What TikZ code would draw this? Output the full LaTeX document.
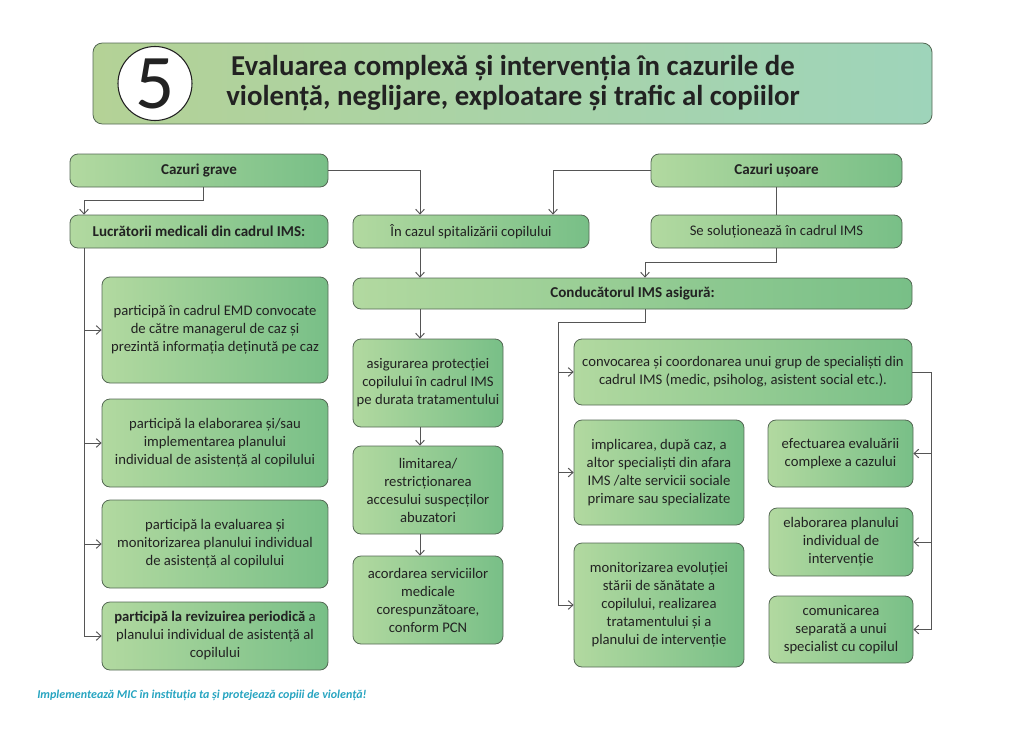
\documentclass[tikz,border=0pt]{standalone}
\usepackage{fontspec}
\setmainfont{Carlito}
\usepackage{tikz}
\usetikzlibrary{arrows.meta, calc}
\definecolor{boxlight}{RGB}{178,217,160}
\definecolor{boxdark}{RGB}{120,191,135}
\definecolor{boxedge}{RGB}{84,104,84}
\definecolor{titleleft}{RGB}{180,210,150}
\definecolor{titleright}{RGB}{158,212,186}
\definecolor{footteal}{RGB}{38,164,192}
\definecolor{linegray}{RGB}{85,85,85}
\definecolor{textgray}{RGB}{34,34,34}

\tikzset{
  card/.style={draw=boxedge, line width=0.6pt, rounded corners=6pt, left color=boxlight, right color=boxdark,
    text=textgray, align=center, inner sep=2pt, font=\fontsize{11}{13.5}\selectfont},
  headcard/.style={card, font=\fontsize{11.3}{13.5}\selectfont\bfseries},
  cardsize/.style 2 args={minimum width=#1*0.75pt, minimum height=#2*0.75pt},
  link/.style={draw=linegray, line width=0.7pt},
  arrow/.style={link, -{Straight Barb[length=3.5pt,width=6.5pt]}},
}

\begin{document}
\begin{tikzpicture}[x=0.75pt, y=-0.75pt]
\useasboundingbox (0,0) rectangle (1024,728);

% title bar
\node[draw=boxedge, line width=0.6pt, rounded corners=7pt, left color=titleleft, right color=titleright,
  cardsize={839}{81}] (titlebar) at (512.5,83.5) {};
\node[circle, draw=textgray, line width=0.8pt, fill=white, minimum size=55.5pt, inner sep=0pt,
  font=\fontsize{58}{58}\selectfont, text=textgray] (num) at (155,83.5) {5};
\node[align=center, text=textgray, font=\fontsize{21.6}{22.5}\selectfont\bfseries] (heading) at (513,83.5)
  {Evaluarea complexă și intervenția în cazurile de\\ violență, neglijare, exploatare și trafic al copiilor};

% top row
\node[headcard, cardsize={258}{33}] (grave) at (199,170.5) {Cazuri grave};
\node[headcard, cardsize={251}{33}] (usoare) at (776.5,170.5) {Cazuri ușoare};
\node[headcard, cardsize={258}{33}] (lucr) at (199,231.5) {Lucrătorii medicali din cadrul IMS:};
\node[card, cardsize={236}{33}] (spital) at (471,231.5) {În cazul spitalizării copilului};
\node[card, cardsize={251}{33}] (solut) at (776.5,231.5) {Se soluționează în cadrul IMS};
\node[headcard, cardsize={559}{31}] (cond) at (632.5,293.5) {Conducătorul IMS asigură:};

% left column
\node[card, cardsize={226}{106}] (L1) at (215,330) {participă în cadrul EMD convocate\\ de către managerul de caz și\\ prezintă informația deținută pe caz};
\node[card, cardsize={226}{88}] (L2) at (215,443) {participă la elaborarea și/sau\\ implementarea planului\\ individual de asistență al copilului};
\node[card, cardsize={226}{88}] (L3) at (215,544) {participă la evaluarea și\\ monitorizarea planului individual\\ de asistență al copilului};
\node[card, cardsize={226}{68}] (L4) at (215,636) {\textbf{participă la revizuirea periodică} a\\ planului individual de asistență al\\ copilului};

% middle column
\node[card, cardsize={150}{88}] (M1) at (428,383) {asigurarea protecției\\ copilului în cadrul IMS\\ pe durata tratamentului};
\node[card, cardsize={150}{88}] (M2) at (428,490) {limitarea/\\ restricționarea\\ accesului suspecților\\ abuzatori};
\node[card, cardsize={150}{88}] (M3) at (428,600) {acordarea serviciilor\\ medicale\\ corespunzătoare,\\ conform PCN};

% right column
\node[card, cardsize={338}{66}] (R1) at (743,372) {convocarea și coordonarea unui grup de specialiști din\\ cadrul IMS (medic, psiholog, asistent social etc.).};
\node[card, cardsize={170}{105}] (R2) at (659,472.5) {implicarea, după caz, a\\ altor specialiști din afara\\ IMS /alte servicii sociale\\ primare sau specializate};
\node[card, cardsize={170}{124}] (R3) at (659,605) {monitorizarea evoluției\\ stării de sănătate a\\ copilului, realizarea\\ tratamentului și a\\ planului de intervenție};
\node[card, cardsize={145}{67}] (R4) at (840.5,453.5) {efectuarea evaluării\\ complexe a cazului};
\node[card, cardsize={144}{68}] (R5) at (841,542) {elaborarea planului\\ individual de\\ intervenție};
\node[card, cardsize={144}{67}] (R6) at (841,629.5) {comunicarea\\ separată a unui\\ specialist cu copilul};

% footer
\node[anchor=west, inner sep=0pt, text=footteal, font=\fontsize{9}{10}\selectfont\bfseries\itshape] (motto) at (37,695)
  {Implementează MIC în instituția ta și protejează copiii de violență!};

% spines
\coordinate (spineL) at (84,0);
\coordinate (spineM) at (420,0);
\coordinate (spineR) at (558,0);
\coordinate (spineRR) at (931,0);
\coordinate (xus) at (553,0);
\coordinate (xcond) at (645,0);

% connectors
\draw[arrow] ([xshift=3pt]grave.south) -- ++(0,13) -| (lucr.north -| spineL);
\draw[arrow] (grave.east) -| (spital.north -| spineM);
\draw[arrow] (usoare.west) -| (spital.north -| xus);
\draw[link] (usoare.south) -- (solut.north);
\draw[arrow] (solut.south) -- ++(0,14) -| (cond.north -| xcond);
\draw[arrow] (spital.south -| spineM) -- (cond.north -| spineM);

\draw[arrow] (lucr.south -| spineL) |- (L4.west);
\foreach \b in {L1,L2,L3}
  \draw[arrow] (spineL |- \b.west) -- (\b.west);

\draw[arrow] (cond.south -| spineM) -- (M1.north -| spineM);
\draw[arrow] (M1.south -| spineM) -- (M2.north -| spineM);
\draw[arrow] (M2.south -| spineM) -- (M3.north -| spineM);

\draw[arrow] (cond.south -| xcond) -- ++(0,13) -| (spineR |- R3.west) -- (R3.west);
\foreach \b in {R1,R2}
  \draw[arrow] (spineR |- \b.west) -- (\b.west);

\draw[arrow] (R1.east) -| (spineRR |- R6.east) -- (R6.east);
\foreach \b in {R4,R5}
  \draw[arrow] (spineRR |- \b.east) -- (\b.east);

\end{tikzpicture}
\end{document}
